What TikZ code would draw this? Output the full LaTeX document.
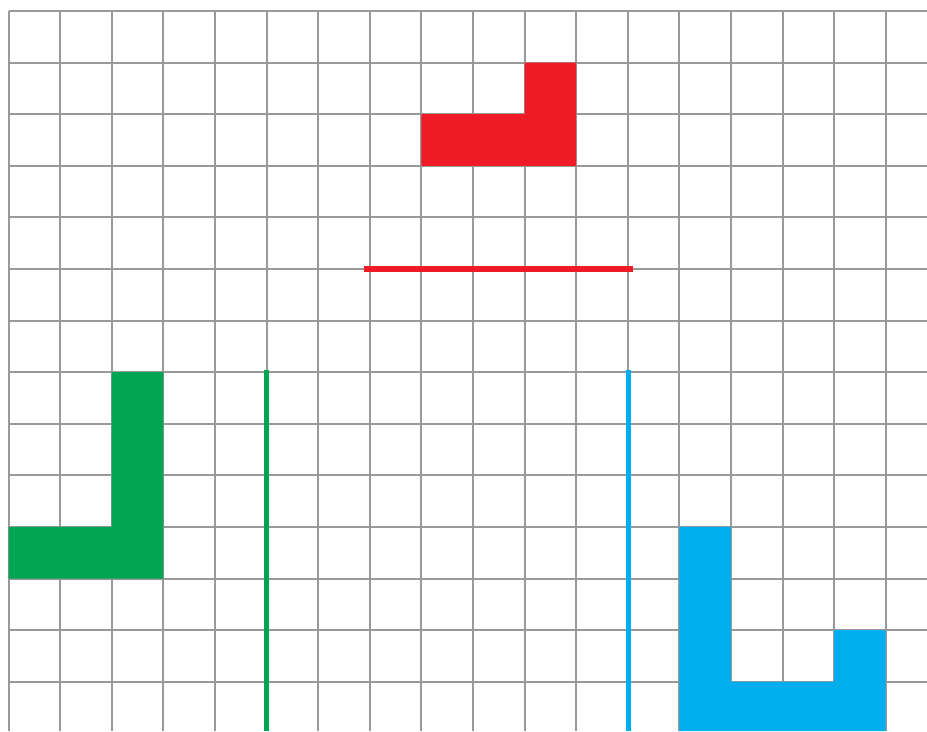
\documentclass[tikz,border=0pt]{standalone}
\definecolor{gridgray}{HTML}{999999}
\definecolor{shred}{HTML}{ED1C24}
\definecolor{shgreen}{HTML}{00A651}
\definecolor{shblue}{HTML}{00AEEF}
\begin{document}
\begin{tikzpicture}[x=1cm,y=1cm,
  gridline/.style={draw=gridgray,line width=1.1pt},
  segline/.style={line width=2.8pt}]
\useasboundingbox (-0.165,0.213) rectangle (17.8,-13.954);
\fill[white] (-0.165,0.213) rectangle (17.8,-13.954);
% grid
\foreach \i in {0,...,17} \draw[gridline] (\i,0) -- (\i,-13.954);
\foreach \j in {0,...,13} \draw[gridline] (0,-\j) -- (17.8,-\j);
% red shape and segment
\fill[shred] (8,-2) -- (10,-2) -- (10,-1) -- (11,-1) -- (11,-3) -- (8,-3) -- cycle;
\coordinate (rA) at (6.88,-5);
\coordinate (rB) at (12.1,-5);
\draw[segline,shred] (rA) -- (rB);
% green shape and segment
\fill[shgreen] (0,-10) -- (2,-10) -- (2,-7) -- (3,-7) -- (3,-11) -- (0,-11) -- cycle;
\coordinate (gA) at (5,-6.96);
\coordinate (gB) at (5,-13.954);
\draw[segline,shgreen] (gA) -- (gB);
% blue segment and shape
\coordinate (bA) at (12.02,-6.96);
\coordinate (bB) at (12.02,-13.954);
\draw[segline,shblue] (bA) -- (bB);
\fill[shblue] (13,-10) -- (14,-10) -- (14,-13) -- (16,-13) -- (16,-12) -- (17,-12) -- (17,-13.954) -- (13,-13.954) -- cycle;
\end{tikzpicture}
\end{document}
